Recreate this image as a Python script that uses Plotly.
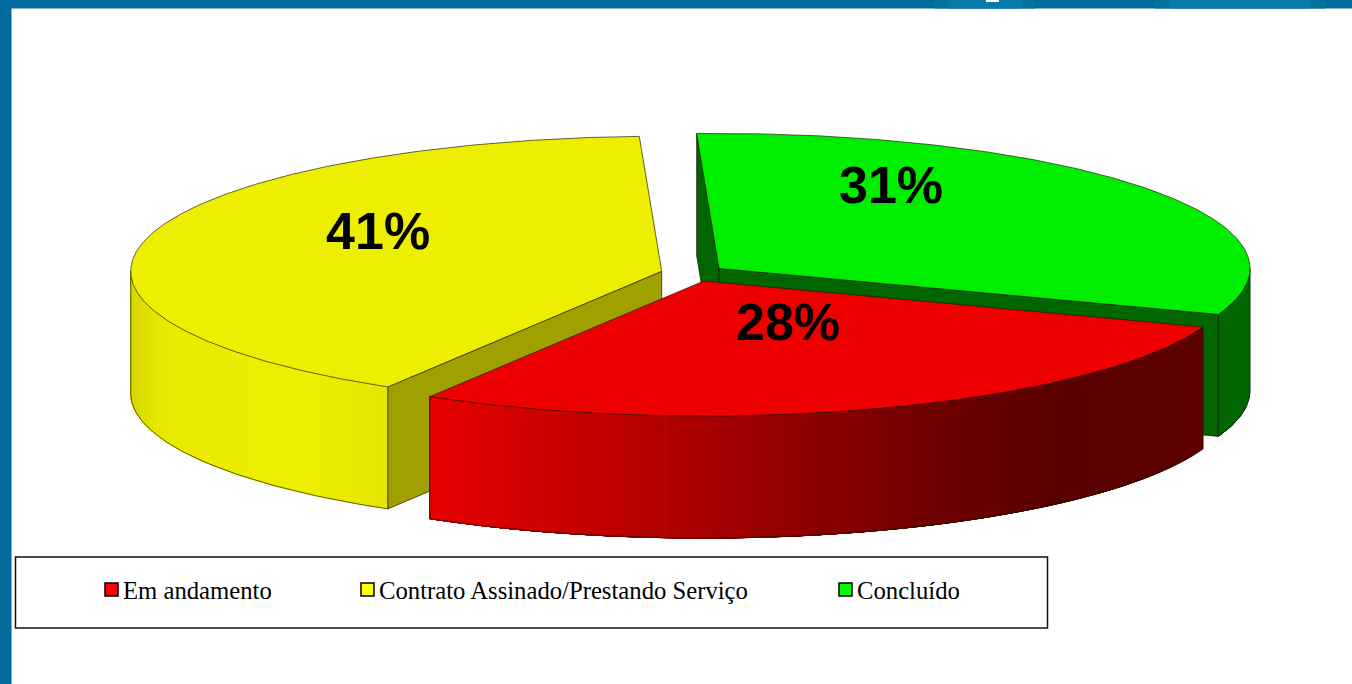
import math
import plotly.graph_objects as go

categories = ["Em andamento", "Contrato Assinado/Prestando Serviço", "Concluído"]
values = [28.1, 40.7, 31.2]
top_colors = ["#ee0000", "#eeee00", "#00ee00"]
legend_colors = ["#ff0000", "#ffff00", "#00ff00"]
label_angle = [63.8, 208.0, 298.0]
label_radius = [0.355, 0.607, 0.686]
legend_x = [83, 339, 817]

W, H = 1352, 684
CX, CY = 693.0, 273.3
RX, RY = 531.0, 135.0
DEPTH = 122.0
EXPLODE = 0.0608
START = 19.9
EDGE = "rgba(20,20,0,0.65)"


def lerp_color(stops, x):
    if x <= stops[0][0]:
        return "rgb(%d,%d,%d)" % stops[0][1]
    for (x0, c0), (x1, c1) in zip(stops, stops[1:]):
        if x <= x1:
            f = (x - x0) / (x1 - x0)
            return "rgb(%d,%d,%d)" % tuple(round(a + (b - a) * f) for a, b in zip(c0, c1))
    return "rgb(%d,%d,%d)" % stops[-1][1]


RED_WALL = [(428, (232, 0, 0)), (470, (222, 0, 0)), (624, (188, 0, 0)), (777, (150, 0, 0)),
            (930, (112, 0, 0)), (1058, (88, 0, 0)), (1203, (94, 0, 0))]
YEL_WALL = [(130, (214, 214, 0)), (165, (234, 234, 0)), (300, (238, 238, 0)), (385, (230, 230, 0))]
GRN_WALL = [(0, (0, 102, 0)), (2000, (0, 102, 0))]
walls = [RED_WALL, YEL_WALL, GRN_WALL]
cut_colors = ["#880000", "#a0a000", "#006600"]
# which cut faces can be seen (start edge, end edge) for each wedge
cut_visible = [(False, False), (True, False), (True, True)]

total = sum(values)
spans = []
a = START
for v in values:
    b = a + v / total * 360
    spans.append((a, b))
    a = b


def apex(i):
    mid = math.radians(sum(spans[i]) / 2)
    return CX + EXPLODE * RX * math.cos(mid), CY + EXPLODE * RY * math.sin(mid)


def pt(i, deg, r=1.0, dz=0.0):
    ax, ay = apex(i)
    t = math.radians(deg)
    return ax + r * RX * math.cos(t), ay + r * RY * math.sin(t) + dz


def arc(i, a0, a1, n, dz=0.0):
    return [pt(i, a0 + (a1 - a0) * k / n, 1.0, dz) for k in range(n + 1)]


fig = go.Figure()


def poly(points, fill, line=None, width=1.0):
    xs = [p[0] for p in points] + [points[0][0]]
    ys = [p[1] for p in points] + [points[0][1]]
    fig.add_trace(go.Scatter(x=xs, y=ys, mode="lines", fill="toself", fillcolor=fill,
                             line=dict(color=line or fill, width=width),
                             hoverinfo="skip", showlegend=False))


def outline(points):
    fig.add_trace(go.Scatter(x=[p[0] for p in points], y=[p[1] for p in points], mode="lines",
                             line=dict(color=EDGE, width=1), hoverinfo="skip", showlegend=False))


def draw_wedge(i):
    a0, b0 = spans[i]
    ax, ay = apex(i)
    ab = (ax, ay + DEPTH)
    for deg, shown in zip((a0, b0), cut_visible[i]):
        if shown:
            poly([(ax, ay), pt(i, deg), pt(i, deg, 1.0, DEPTH), ab], cut_colors[i], EDGE, 1)
    # outer wall, only the part facing the viewer (screen angles 0..180)
    ranges = []
    for k in (-1, 0, 1):
        lo = max(a0, 360 * k)
        hi = min(b0, 180 + 360 * k)
        if hi > lo:
            ranges.append((lo, hi))
    for lo, hi in ranges:
        n = max(2, int((hi - lo) / 1.5))
        # every slice runs to the far end of the wall, the next one paints over it: no seams
        for k in range(n):
            d0 = lo + (hi - lo) * k / n
            top = arc(i, d0, hi, 24)
            bot = arc(i, hi, d0, 24, DEPTH)
            col = lerp_color(walls[i], pt(i, d0 + (hi - lo) / n / 2)[0])
            poly(top + bot, col, col, 0.3)
        outline(arc(i, hi, lo, max(8, int(hi - lo)), DEPTH) + [pt(i, lo)])
        outline([pt(i, hi), pt(i, hi, 1.0, DEPTH)])
    poly([(ax, ay)] + arc(i, a0, b0, int(b0 - a0) * 2), top_colors[i], EDGE, 1)


for idx in (2, 1, 0):
    draw_wedge(idx)

lx, ly, lt = [], [], []
for i, v in enumerate(values):
    p = pt(i, label_angle[i], label_radius[i])
    lx.append(p[0] + 1)
    ly.append(p[1] + 3)
    lt.append(f"{v:.0f}%")
fig.add_trace(go.Scatter(x=lx, y=ly, mode="text", text=lt, textposition="middle center",
                         textfont=dict(family="Liberation Sans", size=52, color="black", weight="bold"),
                         hoverinfo="skip", showlegend=False))

legends = {}
for i, name in enumerate(categories):
    key = "legend" if i == 0 else f"legend{i + 1}"
    fig.add_trace(go.Scatter(x=[None], y=[None], mode="markers", name=name, legend=key,
                             marker=dict(symbol="square", size=13, color=legend_colors[i],
                                         line=dict(color="black", width=1.5))))
    legends[key] = dict(x=legend_x[i] / W, y=1 - 590 / H, xanchor="left", yanchor="middle",
                        orientation="h", bgcolor="rgba(0,0,0,0)", borderwidth=0,
                        itemwidth=30, font=dict(family="Liberation Serif", size=24.7, color="black"))

BLUE = "#006a9c"
MID = "#03729f"
LIGHT = "#057aa6"


def band(x0, x1, color):
    return dict(type="rect", xref="x", yref="y", x0=x0, x1=x1, y0=0, y1=8.5, fillcolor=color,
                line_width=0, layer="below")


shapes = [
    band(0, W, BLUE),
    dict(type="rect", xref="x", yref="y", x0=0, x1=11.5, y0=0, y1=H, fillcolor=BLUE, line_width=0, layer="below"),
    band(935, 1035, MID), band(948, 1022, LIGHT),
    band(1155, 1325, MID), band(1170, 1310, LIGHT),
    dict(type="rect", xref="x", yref="y", x0=986, x1=999, y0=0, y1=2, fillcolor="white", line_width=0, layer="below"),
    dict(type="rect", xref="x", yref="y", x0=15.5, x1=1047.5, y0=557, y1=628, fillcolor="white",
         line=dict(color="#111111", width=1.5), layer="below"),
]

fig.update_layout(
    width=W, height=H, margin=dict(l=0, r=0, t=0, b=0), paper_bgcolor="white", plot_bgcolor="white",
    xaxis=dict(range=[0, W], visible=False, fixedrange=True),
    yaxis=dict(range=[H, 0], visible=False, fixedrange=True),
    shapes=shapes, **legends,
)
post = """
document.body.style.margin='0';
document.querySelectorAll('.legendsymbols').forEach(function(el){
  el.setAttribute('transform','translate(8.5,0)');
});
"""
fig.write_html("out.html", post_script=post, config={"displayModeBar": False})
